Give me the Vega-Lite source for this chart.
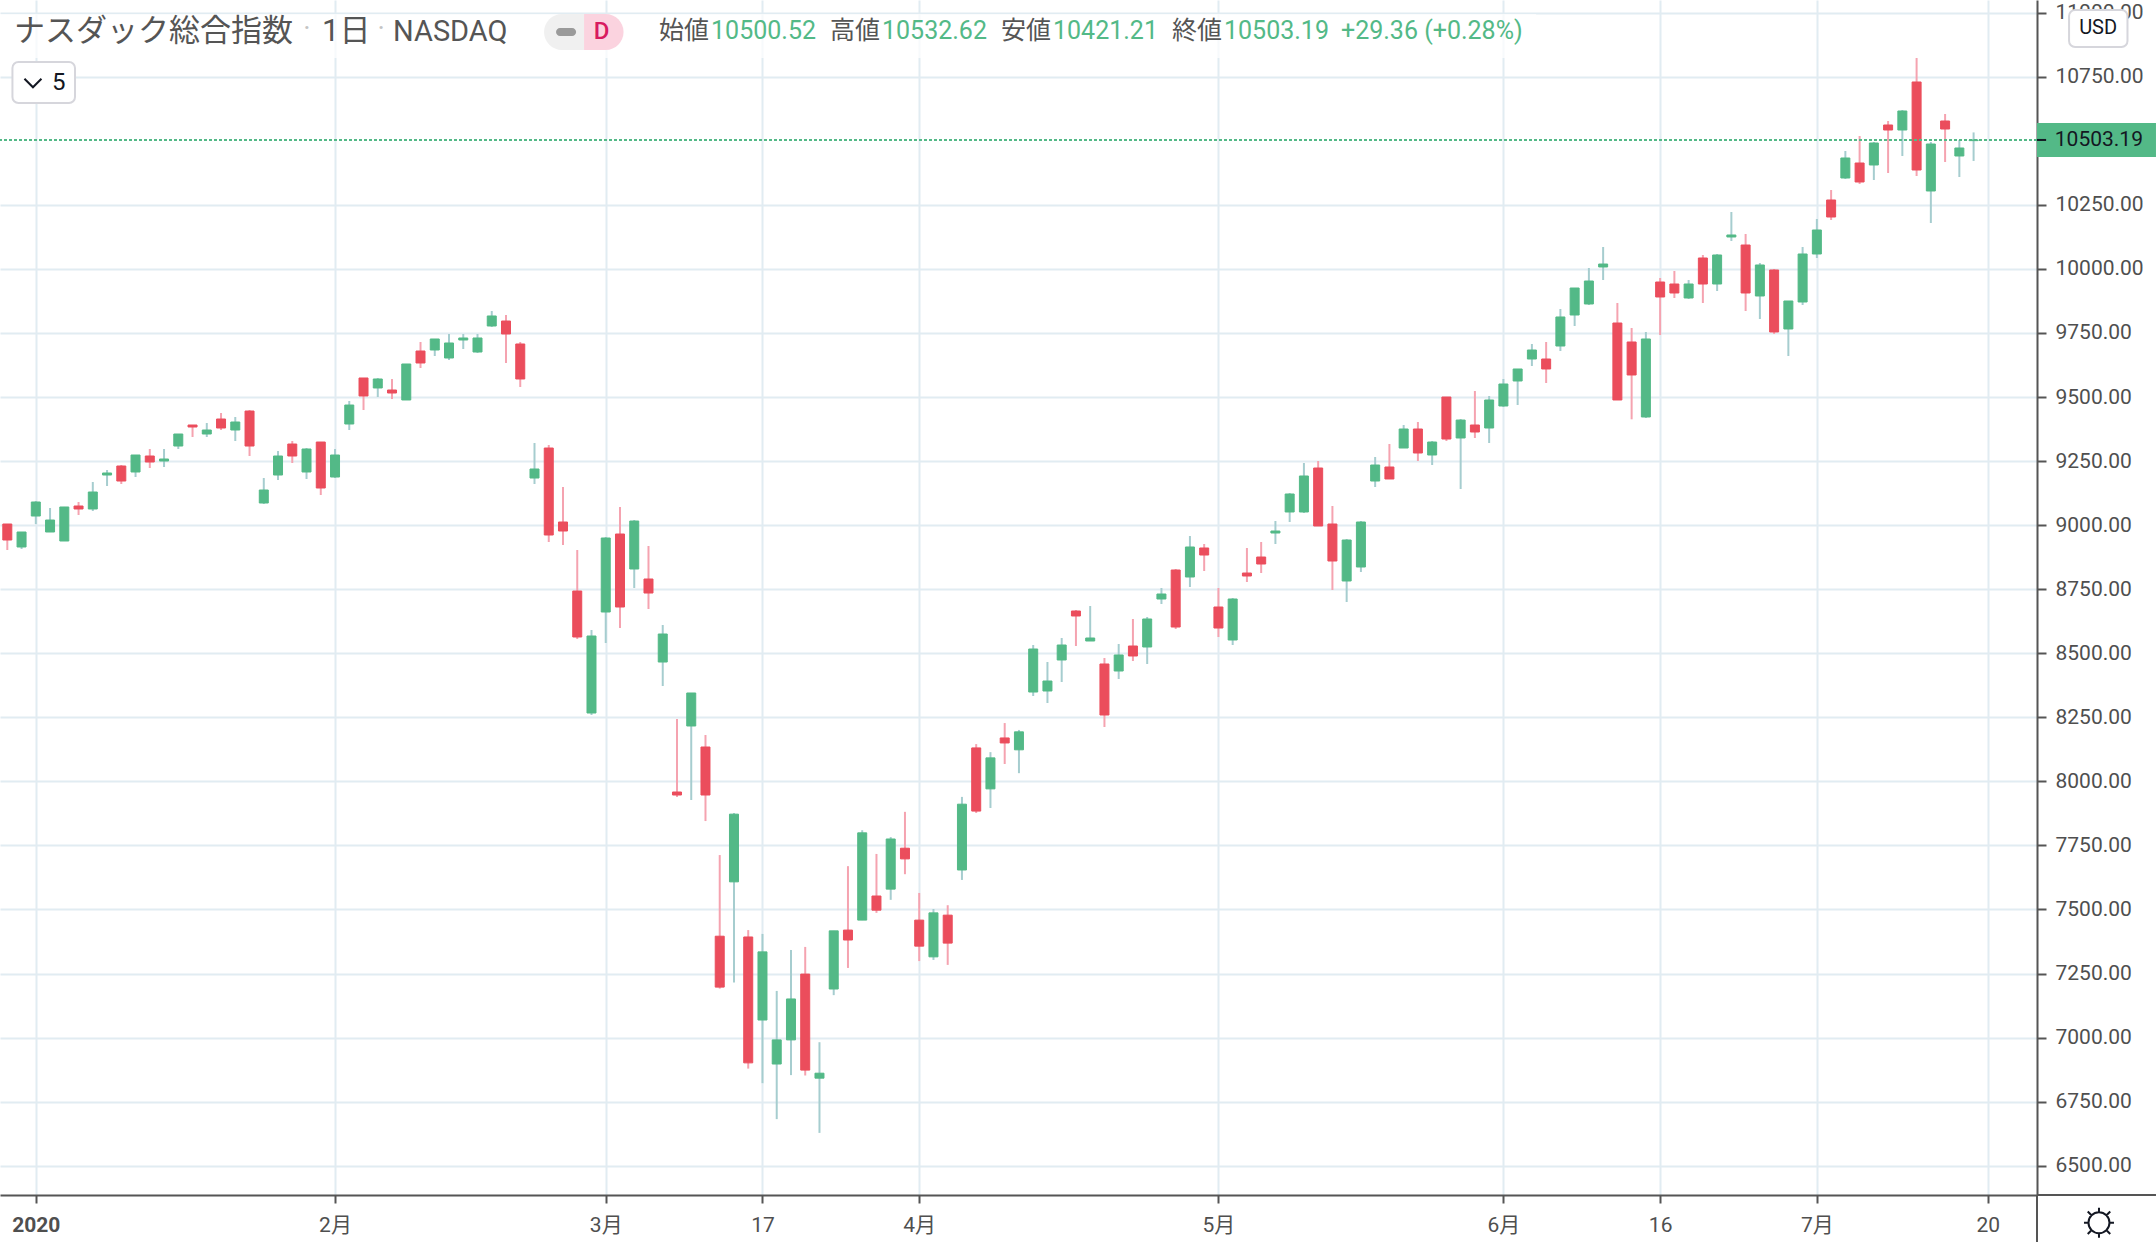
{
  "$schema": "https://vega.github.io/schema/vega-lite/v6.json",
  "description": "NASDAQ composite daily candlesticks, 2020",
  "width": 2037,
  "height": 1195,
  "autosize": "none",
  "padding": {"left": 0, "top": 0, "right": 119, "bottom": 47},
  "background": "#ffffff",
  "config": {
    "view": {"stroke": null},
    "font": "Roboto",
    "axis": {"labelFont": "Roboto, 'Noto Sans CJK JP'", "labelColor": "#4f4f4f", "labelFontSize": 21, "title": null},
    "text": {"font": "Roboto, 'Noto Sans CJK JP'"}
  },
  "datasets": {
    "candles": [
      {"bar":-2,"open":9004.3,"high":9004.3,"low":8902.8,"close":8941.9},
      {"bar":-1,"open":8914.6,"high":8973.1,"low":8906.8,"close":8973.1},
      {"bar":0,"open":9035.5,"high":9094,"low":9004,"close":9090.2},
      {"bar":1,"open":8973.1,"high":9066.8,"low":8973,"close":9019.9},
      {"bar":2,"open":8938,"high":9071,"low":8938,"close":9070.7},
      {"bar":3,"open":9074.6,"high":9090.2,"low":9039.4,"close":9062.9},
      {"bar":4,"open":9062.9,"high":9168.2,"low":9055,"close":9129.2},
      {"bar":5,"open":9195.5,"high":9215.1,"low":9152.6,"close":9203.4},
      {"bar":6,"open":9230.7,"high":9234.6,"low":9160.4,"close":9172.1},
      {"bar":7,"open":9207.3,"high":9273.6,"low":9187.7,"close":9273.6},
      {"bar":8,"open":9269.7,"high":9297,"low":9222.9,"close":9246.3},
      {"bar":9,"open":9250.2,"high":9297,"low":9226.8,"close":9258},
      {"bar":10,"open":9308.7,"high":9355.6,"low":9297,"close":9355.6},
      {"bar":11,"open":9390.7,"high":9390.7,"low":9343.9,"close":9382.9},
      {"bar":12,"open":9355.6,"high":9398.5,"low":9343.9,"close":9371.2},
      {"bar":13,"open":9414.1,"high":9437.5,"low":9371.2,"close":9379},
      {"bar":14,"open":9371.2,"high":9421.9,"low":9328.2,"close":9402.4},
      {"bar":15,"open":9445.3,"high":9449.2,"low":9269.7,"close":9308.7},
      {"bar":16,"open":9086.3,"high":9183.8,"low":9082.4,"close":9137},
      {"bar":17,"open":9195.5,"high":9289.2,"low":9176,"close":9269.7},
      {"bar":18,"open":9316.5,"high":9328.2,"low":9242.4,"close":9269.7},
      {"bar":19,"open":9207.3,"high":9300.9,"low":9180,"close":9297},
      {"bar":20,"open":9324.3,"high":9324.3,"low":9117.5,"close":9144.8},
      {"bar":21,"open":9187.7,"high":9297,"low":9183.8,"close":9273.6},
      {"bar":22,"open":9394.6,"high":9484.4,"low":9371.2,"close":9468.7},
      {"bar":23,"open":9574.2,"high":9574.2,"low":9449.3,"close":9504},
      {"bar":24,"open":9535.2,"high":9574,"low":9500,"close":9570.3},
      {"bar":25,"open":9527.3,"high":9570,"low":9492,"close":9515.6},
      {"bar":26,"open":9488.3,"high":9628.8,"low":9488.3,"close":9628.8},
      {"bar":27,"open":9679.5,"high":9714.7,"low":9613.2,"close":9632.7},
      {"bar":28,"open":9683.4,"high":9726.4,"low":9660,"close":9726.4},
      {"bar":29,"open":9652.2,"high":9745.9,"low":9644.4,"close":9710.8},
      {"bar":30,"open":9722.5,"high":9745.9,"low":9687.3,"close":9730.3},
      {"bar":31,"open":9675.6,"high":9745.9,"low":9671.7,"close":9730.3},
      {"bar":32,"open":9777.1,"high":9835.6,"low":9773.2,"close":9816.2},
      {"bar":33,"open":9796.6,"high":9820,"low":9632.7,"close":9745.9},
      {"bar":34,"open":9706.9,"high":9714.7,"low":9539,"close":9570.3},
      {"bar":35,"open":9183.8,"high":9320.4,"low":9160.4,"close":9219},
      {"bar":36,"open":9300.9,"high":9312.6,"low":8934,"close":8961.4},
      {"bar":37,"open":9012.1,"high":9148.7,"low":8922.4,"close":8977},
      {"bar":38,"open":8742.8,"high":8902.8,"low":8555.6,"close":8563.3},
      {"bar":39,"open":8266.7,"high":8590.6,"low":8258.9,"close":8567.2},
      {"bar":40,"open":8660.9,"high":8953.6,"low":8539.9,"close":8949.7},
      {"bar":41,"open":8965.3,"high":9070.7,"low":8598.4,"close":8680.4},
      {"bar":42,"open":8828.7,"high":9019.9,"low":8754.5,"close":9016},
      {"bar":43,"open":8789.7,"high":8918.5,"low":8672.6,"close":8735},
      {"bar":44,"open":8465.7,"high":8610.1,"low":8372,"close":8575},
      {"bar":45,"open":7958.4,"high":8243.3,"low":7938.9,"close":7946.7},
      {"bar":46,"open":8216,"high":8344.8,"low":7927.2,"close":8344.8},
      {"bar":47,"open":8134,"high":8180.8,"low":7845,"close":7946.7},
      {"bar":48,"open":7395.6,"high":7712.3,"low":7191,"close":7197},
      {"bar":49,"open":7607.7,"high":7876.5,"low":7214.9,"close":7872},
      {"bar":50,"open":7392.6,"high":7419.5,"low":6878.9,"close":6901.3},
      {"bar":51,"open":7068.5,"high":7404.6,"low":6822.1,"close":7334.4},
      {"bar":52,"open":6896.8,"high":7182,"low":6681.7,"close":6990.9},
      {"bar":53,"open":6990.9,"high":7341.9,"low":6853.5,"close":7150.7},
      {"bar":54,"open":7247.8,"high":7353.8,"low":6852,"close":6873},
      {"bar":55,"open":6841.6,"high":6981.9,"low":6628,"close":6861},
      {"bar":56,"open":7189.5,"high":7416.5,"low":7165.6,"close":7416.5},
      {"bar":57,"open":7419.5,"high":7669,"low":7271.7,"close":7380.7},
      {"bar":58,"open":7458.4,"high":7809.3,"low":7458.4,"close":7798.9},
      {"bar":59,"open":7552.5,"high":7716.7,"low":7486.7,"close":7497.2},
      {"bar":60,"open":7579.3,"high":7782.5,"low":7537.5,"close":7775},
      {"bar":61,"open":7739.1,"high":7881,"low":7637.6,"close":7697.3},
      {"bar":62,"open":7458.4,"high":7564.4,"low":7298.6,"close":7356.8},
      {"bar":63,"open":7315,"high":7501.7,"low":7303,"close":7486.7},
      {"bar":64,"open":7477.8,"high":7516.6,"low":7283.6,"close":7368.7},
      {"bar":65,"open":7654,"high":7939.3,"low":7615.2,"close":7910.9},
      {"bar":66,"open":8130.4,"high":8145.4,"low":7876.5,"close":7884},
      {"bar":67,"open":7970.6,"high":8114,"low":7896,"close":8091.6},
      {"bar":68,"open":8169.3,"high":8227.5,"low":8067.7,"close":8149.8},
      {"bar":69,"open":8123,"high":8200.6,"low":8031.9,"close":8193.2},
      {"bar":70,"open":8348.6,"high":8532.1,"low":8333,"close":8516.5},
      {"bar":71,"open":8352.6,"high":8465.8,"low":8305.7,"close":8391.6},
      {"bar":72,"open":8473.6,"high":8559.4,"low":8387.7,"close":8532.1},
      {"bar":73,"open":8664.8,"high":8668.7,"low":8528.2,"close":8645.3},
      {"bar":74,"open":8547.7,"high":8684.3,"low":8547.7,"close":8559.4},
      {"bar":75,"open":8458,"high":8481.4,"low":8212,"close":8258.9},
      {"bar":76,"open":8430.6,"high":8536,"low":8399.4,"close":8493.1},
      {"bar":77,"open":8528.2,"high":8633.6,"low":8469.6,"close":8489.2},
      {"bar":78,"open":8524.3,"high":8641.4,"low":8458,"close":8633.6},
      {"bar":79,"open":8711.6,"high":8754.5,"low":8692.1,"close":8731.1},
      {"bar":80,"open":8824.8,"high":8828.7,"low":8594.5,"close":8602.3},
      {"bar":81,"open":8797.5,"high":8957.5,"low":8758.5,"close":8914.6},
      {"bar":82,"open":8910.7,"high":8926.3,"low":8820.9,"close":8883.3},
      {"bar":83,"open":8680.4,"high":8754.5,"low":8563.3,"close":8598.4},
      {"bar":84,"open":8551.6,"high":8715.5,"low":8532.1,"close":8711.6},
      {"bar":85,"open":8813,"high":8910.7,"low":8778,"close":8801.4},
      {"bar":86,"open":8875.5,"high":8934.1,"low":8813,"close":8848.2},
      {"bar":87,"open":8969.2,"high":9016,"low":8926.3,"close":8977},
      {"bar":88,"open":9051.2,"high":9125.3,"low":9012.1,"close":9121.4},
      {"bar":89,"open":9051.2,"high":9242.4,"low":9047.3,"close":9191.7},
      {"bar":90,"open":9222.9,"high":9250.2,"low":8996.5,"close":8996.5},
      {"bar":91,"open":9004.3,"high":9074.6,"low":8746.8,"close":8859.9},
      {"bar":92,"open":8781.9,"high":8945.8,"low":8699.9,"close":8941.9},
      {"bar":93,"open":8836.5,"high":9016,"low":8817,"close":9012.1},
      {"bar":94,"open":9172.1,"high":9265.8,"low":9148.7,"close":9234.6},
      {"bar":95,"open":9226.8,"high":9316.5,"low":9180,"close":9180},
      {"bar":96,"open":9300.9,"high":9390.7,"low":9300.9,"close":9375.1},
      {"bar":97,"open":9375.1,"high":9402.4,"low":9250.2,"close":9281.4},
      {"bar":98,"open":9273.6,"high":9328.2,"low":9234.6,"close":9324.3},
      {"bar":99,"open":9500,"high":9500,"low":9328.2,"close":9336},
      {"bar":100,"open":9340,"high":9414,"low":9141,"close":9410},
      {"bar":101,"open":9390.7,"high":9523.4,"low":9340,"close":9363.4},
      {"bar":102,"open":9379,"high":9504,"low":9320.4,"close":9488.3},
      {"bar":103,"open":9464.9,"high":9570.3,"low":9461,"close":9550.7},
      {"bar":104,"open":9562.5,"high":9609.3,"low":9468.8,"close":9609.3},
      {"bar":105,"open":9648.3,"high":9706.9,"low":9621,"close":9683.4},
      {"bar":106,"open":9648.3,"high":9714.7,"low":9554.7,"close":9609.3},
      {"bar":107,"open":9699,"high":9843.4,"low":9679.5,"close":9812.3},
      {"bar":108,"open":9820,"high":9925.4,"low":9777.1,"close":9925.4},
      {"bar":109,"open":9863,"high":10003.5,"low":9859.1,"close":9952.7},
      {"bar":110,"open":10007.4,"high":10085.4,"low":9956.6,"close":10019},
      {"bar":111,"open":9788.8,"high":9866.9,"low":9488.3,"close":9488.3},
      {"bar":112,"open":9714.7,"high":9769.3,"low":9412.9,"close":9585.9},
      {"bar":113,"open":9422,"high":9753.7,"low":9418,"close":9726.4},
      {"bar":114,"open":9948.8,"high":9964.4,"low":9742,"close":9890.3},
      {"bar":115,"open":9941,"high":9991.8,"low":9886.4,"close":9905.9},
      {"bar":116,"open":9886.4,"high":9956.6,"low":9882.5,"close":9941},
      {"bar":117,"open":10042.5,"high":10054.2,"low":9866.9,"close":9941},
      {"bar":118,"open":9941,"high":10058.1,"low":9913.7,"close":10054.2},
      {"bar":119,"open":10124.5,"high":10222,"low":10108.9,"close":10132.3},
      {"bar":120,"open":10093.2,"high":10136.2,"low":9835.6,"close":9905.9},
      {"bar":121,"open":9894.2,"high":10023,"low":9804.4,"close":10015.2},
      {"bar":122,"open":9995.7,"high":9999.6,"low":9745.9,"close":9753.7},
      {"bar":123,"open":9765.4,"high":9874.7,"low":9660,"close":9874.7},
      {"bar":124,"open":9870.8,"high":10085.4,"low":9859.1,"close":10058.1},
      {"bar":125,"open":10058.1,"high":10194.7,"low":10042.5,"close":10151.8},
      {"bar":126,"open":10268.9,"high":10307.9,"low":10190.8,"close":10202.5},
      {"bar":127,"open":10354.7,"high":10460.1,"low":10350.8,"close":10432.8},
      {"bar":128,"open":10413.2,"high":10518.6,"low":10331.3,"close":10339.1},
      {"bar":129,"open":10405.5,"high":10495.2,"low":10346.9,"close":10491.3},
      {"bar":130,"open":10561.6,"high":10577.2,"low":10374.2,"close":10542},
      {"bar":131,"open":10542,"high":10620.1,"low":10440.6,"close":10616.2},
      {"bar":132,"open":10729.4,"high":10823,"low":10362.5,"close":10385.9},
      {"bar":133,"open":10304,"high":10495.2,"low":10179.1,"close":10487.4},
      {"bar":134,"open":10577.2,"high":10604.5,"low":10417.2,"close":10545.9},
      {"bar":135,"open":10440.6,"high":10503,"low":10358.6,"close":10471.8},
      {"bar":136,"open":10500.52,"high":10532.62,"low":10421.21,"close":10503.19}
    ]
  },
  "data": {"name": "candles"},
  "layer": [
    {
      "mark": {"type": "rule", "strokeWidth": 2},
      "encoding": {
        "x": {
          "field": "bar",
          "type": "quantitative",
          "scale": {"domain": [-2.513, 140.45], "nice": false, "zero": false, "padding": 0},
          "axis": {
            "orient": "bottom",
            "values": [0, 21, 40, 51, 62, 83, 103, 114, 125, 137],
            "labelExpr": "{'0':'2020','21':'2月','40':'3月','51':'17','62':'4月','83':'5月','103':'6月','114':'16','125':'7月','137':'20'}[datum.value]",
            "labelFontWeight": {"condition": {"test": "datum.value == 0", "value": "bold"}, "value": "normal"},
            "labelPadding": 11,
            "tickSize": 8,
            "tickWidth": 2,
            "tickColor": "#555555",
            "domainColor": "#555555",
            "domainWidth": 2,
            "grid": true,
            "gridColor": "#e1ecf2",
            "gridWidth": 2,
            "labelFlush": false,
            "labelOverlap": false
          }
        },
        "y": {
          "field": "low",
          "type": "quantitative",
          "scale": {"domain": [6385.6, 11049.4], "nice": false, "zero": false, "padding": 0},
          "axis": {
            "orient": "right",
            "values": [6500, 6750, 7000, 7250, 7500, 7750, 8000, 8250, 8500, 8750, 9000, 9250, 9500, 9750, 10000, 10250, 10750, 11000],
            "format": ".2f",
            "labelPadding": 9,
            "tickSize": 9,
            "tickWidth": 2,
            "tickColor": "#555555",
            "domainColor": "#555555",
            "domainWidth": 2,
            "grid": true,
            "gridColor": "#e1ecf2",
            "gridWidth": 2,
            "labelFlush": false,
            "labelOverlap": false
          }
        },
        "y2": {"field": "high"},
        "color": {"condition": {"test": "datum.close >= datum.open", "value": "#a6cdcf"}, "value": "#f5a3b0"}
      }
    },
    {
      "mark": {"type": "bar", "size": 9, "strokeWidth": 1},
      "encoding": {
        "x": {"field": "bar", "type": "quantitative"},
        "y": {"field": "open", "type": "quantitative"},
        "y2": {"field": "close"},
        "color": {"condition": {"test": "datum.close >= datum.open", "value": "#53b987"}, "value": "#eb4d5c"},
        "stroke": {"condition": {"test": "datum.close >= datum.open", "value": "#53b987"}, "value": "#eb4d5c"}
      }
    },
    {
      "data": {"values": [{"label": "last"}]},
      "mark": {"type": "rule", "color": "#53b987", "strokeWidth": 2, "strokeDash": [3, 2]},
      "encoding": {"y": {"datum": 10503.19}}
    },
    {
      "data": {"values": [{"label": "legend"}]},
      "mark": {"type": "rect", "color": "#ffffff", "opacity": 0.72},
      "encoding": {"x": {"datum": -2.513}, "x2": {"datum": 105.3}, "y": {"datum": 10994.7}, "y2": {"datum": 10823}}
    },
    {
      "data": {"values": [{"label": "xaxis"}]},
      "mark": {"type": "rule", "color": "#555555", "strokeWidth": 2},
      "encoding": {"x": {"datum": 140.45}, "x2": {"datum": 148.8}, "y": {"datum": 6385.6}}
    },
    {
      "data": {"values": [{"label": "yaxis"}]},
      "mark": {"type": "rule", "color": "#555555", "strokeWidth": 2},
      "encoding": {"x": {"datum": 140.45}, "y": {"datum": 6385.6}, "y2": {"datum": 6202.2}}
    },
    {
      "data": {"values": [{"label": "tag"}]},
      "mark": {"type": "rect", "color": "#53b987"},
      "encoding": {"x": {"datum": 140.45}, "x2": {"datum": 148.8}, "y": {"datum": 10569.3}, "y2": {"datum": 10436.6}}
    },
    {
      "data": {"values": [{"label": "tick"}]},
      "mark": {"type": "rule", "color": "#131722", "strokeWidth": 2},
      "encoding": {"x": {"datum": 140.45}, "x2": {"datum": 141.09}, "y": {"datum": 10503.19}}
    },
    {
      "data": {"values": [{"label": "10503.19"}]},
      "mark": {"type": "text", "align": "left", "baseline": "middle", "fontSize": 21, "color": "#131722"},
      "encoding": {"x": {"datum": 141.7}, "y": {"datum": 10503}, "text": {"field": "label"}}
    },
    {
      "data": {"values": [{"label": "USD"}]},
      "mark": {"type": "rect", "fill": "#ffffff", "stroke": "#d6d6dc", "strokeWidth": 2, "cornerRadius": 6},
      "encoding": {"x": {"datum": 142.7}, "x2": {"datum": 146.8}, "y": {"datum": 11010.4}, "y2": {"datum": 10866}}
    },
    {
      "data": {"values": [{"label": "USD"}]},
      "mark": {"type": "text", "align": "center", "baseline": "middle", "fontSize": 20, "color": "#131722"},
      "encoding": {"x": {"datum": 144.74}, "y": {"datum": 10940.1}, "text": {"field": "label"}}
    },
    {
      "data": {"values": [{"label": "sun"}]},
      "mark": {
        "type": "point",
        "shape": "M-0.7,0A0.7,0.7,0,1,1,0.7,0A0.7,0.7,0,1,1,-0.7,0M0,-1L0,-0.7M0,1L0,0.7M-1,0L-0.7,0M1,0L0.7,0M-0.75,-0.75L-0.5,-0.5M0.75,-0.75L0.5,-0.5M-0.75,0.75L-0.5,0.5M0.75,0.75L0.5,0.5",
        "size": 900,
        "filled": false,
        "stroke": "#131722",
        "strokeWidth": 2,
        "opacity": 1
      },
      "encoding": {"x": {"datum": 144.8}, "y": {"datum": 6277.5}}
    },
    {
      "data": {"values": [{"label": "ナスダック総合指数"}]},
      "mark": {"type": "text", "align": "left", "baseline": "middle", "fontSize": 31, "color": "#555555"},
      "encoding": {"x": {"datum": -1.53}, "y": {"datum": 10924.5}, "text": {"field": "label"}}
    },
    {
      "data": {"values": [{"label": "·"}]},
      "mark": {"type": "text", "align": "center", "baseline": "middle", "fontSize": 28, "color": "#c4c4c4"},
      "encoding": {"x": {"datum": 19.03}, "y": {"datum": 10935}, "text": {"field": "label"}}
    },
    {
      "data": {"values": [{"label": "1日"}]},
      "mark": {"type": "text", "align": "left", "baseline": "middle", "fontSize": 31, "color": "#555555"},
      "encoding": {"x": {"datum": 20.09}, "y": {"datum": 10924.5}, "text": {"field": "label"}}
    },
    {
      "data": {"values": [{"label": "·"}]},
      "mark": {"type": "text", "align": "center", "baseline": "middle", "fontSize": 28, "color": "#c4c4c4"},
      "encoding": {"x": {"datum": 24.24}, "y": {"datum": 10935}, "text": {"field": "label"}}
    },
    {
      "data": {"values": [{"label": "NASDAQ"}]},
      "mark": {"type": "text", "align": "left", "baseline": "middle", "fontSize": 29, "color": "#555555"},
      "encoding": {"x": {"datum": 25.07}, "y": {"datum": 10924.5}, "text": {"field": "label"}}
    },
    {
      "data": {"values": [{"label": "pill"}]},
      "mark": {"type": "rect", "color": "#f0f0f0", "cornerRadiusTopLeft": 18, "cornerRadiusBottomLeft": 18},
      "encoding": {"x": {"datum": 35.67}, "x2": {"datum": 38.48}, "y": {"datum": 10994.7}, "y2": {"datum": 10854.2}}
    },
    {
      "data": {"values": [{"label": "pill"}]},
      "mark": {"type": "rect", "color": "#fbd3df", "cornerRadiusTopRight": 18, "cornerRadiusBottomRight": 18},
      "encoding": {"x": {"datum": 38.48}, "x2": {"datum": 41.25}, "y": {"datum": 10994.7}, "y2": {"datum": 10854.2}}
    },
    {
      "data": {"values": [{"label": "dash"}]},
      "mark": {"type": "rect", "color": "#9a9a9a", "cornerRadius": 4},
      "encoding": {"x": {"datum": 36.51}, "x2": {"datum": 37.92}, "y": {"datum": 10940.1}, "y2": {"datum": 10908.9}}
    },
    {
      "data": {"values": [{"label": "D"}]},
      "mark": {"type": "text", "align": "center", "baseline": "middle", "fontSize": 24, "fontWeight": 500, "color": "#d81b60"},
      "encoding": {"x": {"datum": 39.7}, "y": {"datum": 10924.5}, "text": {"field": "label"}}
    },
    {
      "data": {"values": [{"label": "始値"}]},
      "mark": {"type": "text", "align": "left", "baseline": "middle", "fontSize": 25, "color": "#555555"},
      "encoding": {"x": {"datum": 43.74}, "y": {"datum": 10928}, "text": {"field": "label"}}
    },
    {
      "data": {"values": [{"label": "10500.52"}]},
      "mark": {"type": "text", "align": "left", "baseline": "middle", "fontSize": 25, "color": "#53b987"},
      "encoding": {"x": {"datum": 47.39}, "y": {"datum": 10928}, "text": {"field": "label"}}
    },
    {
      "data": {"values": [{"label": "高値"}]},
      "mark": {"type": "text", "align": "left", "baseline": "middle", "fontSize": 25, "color": "#555555"},
      "encoding": {"x": {"datum": 55.74}, "y": {"datum": 10928}, "text": {"field": "label"}}
    },
    {
      "data": {"values": [{"label": "10532.62"}]},
      "mark": {"type": "text", "align": "left", "baseline": "middle", "fontSize": 25, "color": "#53b987"},
      "encoding": {"x": {"datum": 59.39}, "y": {"datum": 10928}, "text": {"field": "label"}}
    },
    {
      "data": {"values": [{"label": "安値"}]},
      "mark": {"type": "text", "align": "left", "baseline": "middle", "fontSize": 25, "color": "#555555"},
      "encoding": {"x": {"datum": 67.74}, "y": {"datum": 10928}, "text": {"field": "label"}}
    },
    {
      "data": {"values": [{"label": "10421.21"}]},
      "mark": {"type": "text", "align": "left", "baseline": "middle", "fontSize": 25, "color": "#53b987"},
      "encoding": {"x": {"datum": 71.39}, "y": {"datum": 10928}, "text": {"field": "label"}}
    },
    {
      "data": {"values": [{"label": "終値"}]},
      "mark": {"type": "text", "align": "left", "baseline": "middle", "fontSize": 25, "color": "#555555"},
      "encoding": {"x": {"datum": 79.74}, "y": {"datum": 10928}, "text": {"field": "label"}}
    },
    {
      "data": {"values": [{"label": "10503.19"}]},
      "mark": {"type": "text", "align": "left", "baseline": "middle", "fontSize": 25, "color": "#53b987"},
      "encoding": {"x": {"datum": 83.39}, "y": {"datum": 10928}, "text": {"field": "label"}}
    },
    {
      "data": {"values": [{"label": "+29.36 (+0.28%)"}]},
      "mark": {"type": "text", "align": "left", "baseline": "middle", "fontSize": 25, "color": "#53b987"},
      "encoding": {"x": {"datum": 91.6}, "y": {"datum": 10928}, "text": {"field": "label"}}
    },
    {
      "data": {"values": [{"label": "interval"}]},
      "mark": {"type": "rect", "fill": "#ffffff", "stroke": "#d6d6dc", "strokeWidth": 2, "cornerRadius": 6},
      "encoding": {"x": {"datum": -1.64}, "x2": {"datum": 2.75}, "y": {"datum": 10807.4}, "y2": {"datum": 10647.4}}
    },
    {
      "data": {"values": [{"label": "chevron"}]},
      "mark": {"type": "point", "shape": "M-1,-0.5L0,0.5L1,-0.5", "size": 289, "filled": false, "stroke": "#131722", "strokeWidth": 2, "opacity": 1},
      "encoding": {"x": {"datum": -0.2}, "y": {"datum": 10725.4}}
    },
    {
      "data": {"values": [{"label": "5"}]},
      "mark": {"type": "text", "align": "center", "baseline": "middle", "fontSize": 24, "color": "#131722"},
      "encoding": {"x": {"datum": 1.61}, "y": {"datum": 10725.4}, "text": {"field": "label"}}
    }
  ]
}
